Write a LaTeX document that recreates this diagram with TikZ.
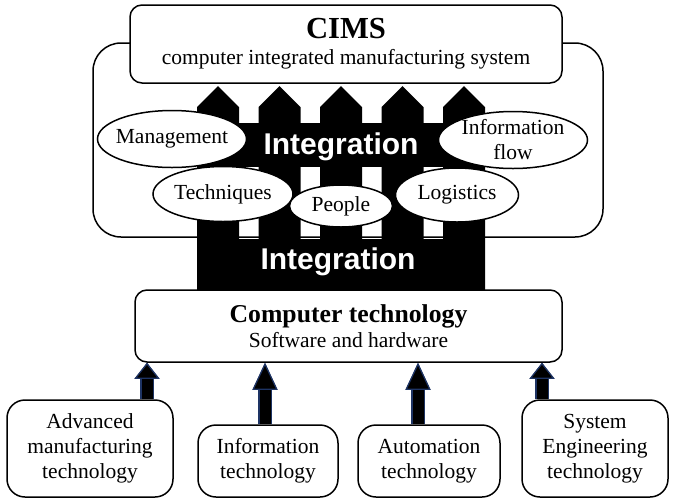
\documentclass[tikz,border=0pt]{standalone}
\usepackage{fontspec}
\setmainfont{Liberation Serif}
\setsansfont{Liberation Sans}
\usepackage{xcolor}
\usepackage{tikz}
\usetikzlibrary{arrows.meta,calc,positioning,shapes.geometric}
\definecolor{rim}{RGB}{30,52,100}
\newcommand{\txt}{\fontsize{21.5}{25}\selectfont}

\begin{document}
\begin{tikzpicture}[x=1pt,y=-1pt,
  box/.style={draw,line width=1.5pt,rounded corners=12pt,fill=white,align=center,inner sep=0pt,font=\txt},
  bubble/.style={ellipse,draw,line width=1.5pt,fill=white,inner sep=0pt},
  lbl/.style={font=\txt,align=center},
  intext/.style={text=white,font=\fontsize{30}{32}\selectfont\sffamily\bfseries},
  bigarrow/.style={line width=11pt,-{Triangle[length=#1,width=25pt,line width=1.2pt,color=rim,fill=black]},
    preaction={draw=rim,line width=13.5pt,-{Triangle[length=#1,width=25pt,line width=0pt]}}},
  bigarrow/.default=16pt]
  \useasboundingbox (0,0) rectangle (675,499);
  \draw[line width=1.5pt,rounded corners=28pt] (93,43) rectangle (603,237);
  \foreach \x in {197,258.5,320,381.5,443} \fill (\x,291) -- (\x,107) -- (\x+21,86) -- (\x+42,107) -- (\x+42,291) -- cycle;
  \fill (197,123) rectangle (485,167); \fill (197,239) rectangle (485,291);
  \node[box,minimum width=432pt,minimum height=78pt] (cims) at (346,44) {{\fontsize{30.6}{32}\selectfont\bfseries CIMS}\\[1pt]computer integrated manufacturing system};
  \node[intext] (int1) at (341,147) {Integration}; \node[intext] (int2) at (338,262) {Integration};
  \node[bubble,minimum width=149pt,minimum height=57pt,label={[lbl]center:Management}] (mgmt) at (172,139) {};
  \node[bubble,minimum width=149pt,minimum height=57pt,label={[lbl]center:Information\\flow}] (flow) at (513,140) {};
  \node[bubble,minimum width=140pt,minimum height=55pt,label={[lbl]center:Techniques}] (tech) at (223,194) {};
  \node[bubble,minimum width=103pt,minimum height=42pt,label={[lbl]center:People}] (ppl) at (341,206) {};
  \node[bubble,minimum width=123pt,minimum height=54pt,label={[lbl]center:Logistics}] (logi) at (457,195) {};
  \node[box,minimum width=427pt,minimum height=72pt] (ct) at (348.5,326) {{\fontsize{25.7}{27}\selectfont\bfseries Computer technology}\\Software and hardware};
  \node[box,rounded corners=18pt,minimum width=166pt,minimum height=97pt] (adv) at (90,448.5) {Advanced\\manufacturing\\technology};
  \node[box,rounded corners=18pt,minimum width=140pt,minimum height=72pt] (inf) at (268,461) {Information\\technology};
  \node[box,rounded corners=18pt,minimum width=142pt,minimum height=72pt] (aut) at (429,461) {Automation\\technology};
  \node[box,rounded corners=18pt,minimum width=146pt,minimum height=97pt] (sys) at (595,448.5) {System\\Engineering\\technology};
  \coordinate (f1) at ([xshift=57pt]adv.north); \coordinate (f2) at ([xshift=-3pt]inf.north);
  \coordinate (f3) at ([xshift=-11pt]aut.north); \coordinate (f4) at ([xshift=-53pt]sys.north);
  \draw[bigarrow] (f1) -- (f1 |- ct.south); \draw[bigarrow=27pt] (f2) -- (f2 |- ct.south);
  \draw[bigarrow=27pt] (f3) -- (f3 |- ct.south); \draw[bigarrow] (f4) -- (f4 |- ct.south);
\end{tikzpicture}
\end{document}
